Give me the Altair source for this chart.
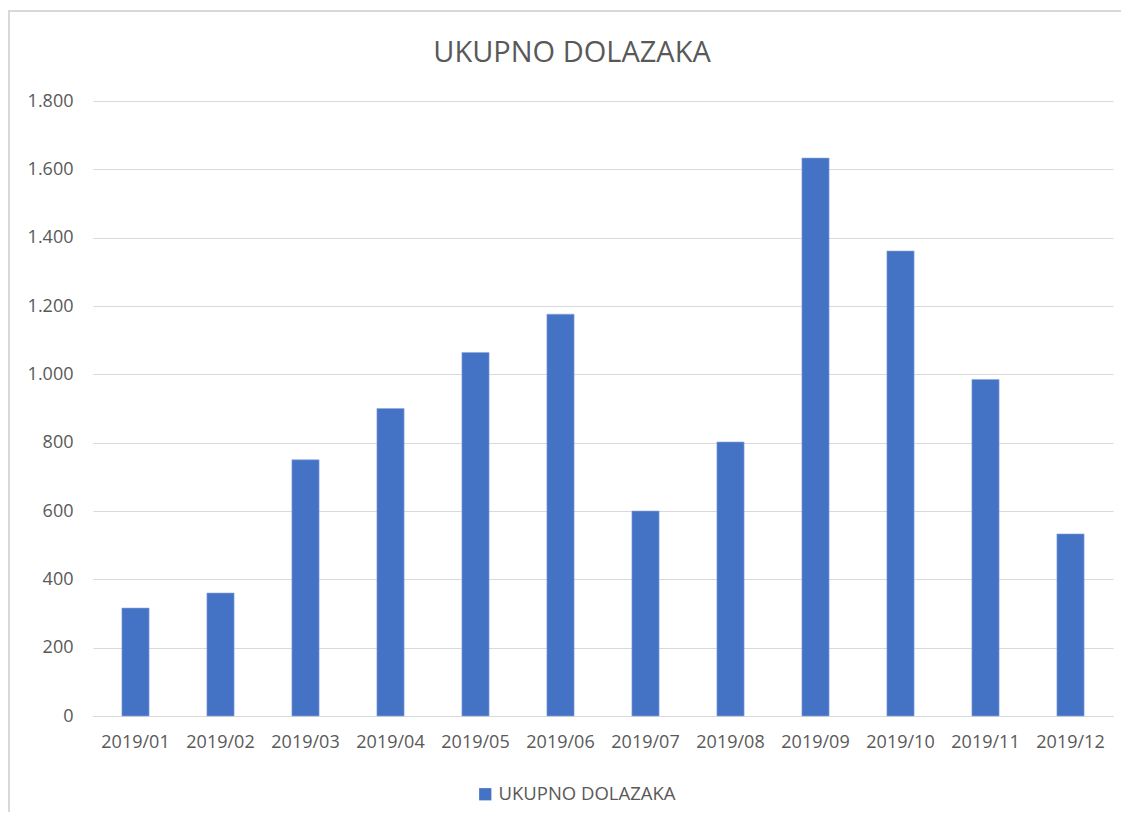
import altair as alt
import pandas as pd

months = ["2019/01", "2019/02", "2019/03", "2019/04", "2019/05", "2019/06",
          "2019/07", "2019/08", "2019/09", "2019/10", "2019/11", "2019/12"]
values = [316, 360, 750, 900, 1064, 1176, 600, 802, 1633, 1361, 985, 533]
series = "UKUPNO DOLAZAKA"

df = pd.DataFrame({"month": months, "value": values, "series": [series] * len(months)})
title_df = pd.DataFrame({"t": [series]})

FONT = "Open Sans"
GRAY = "#595959"

bars = alt.Chart(df).mark_bar(color="#4472C4", stroke="#8FAADC", strokeWidth=0.6).encode(
    x=alt.X("month:N", sort=months, title=None,
            scale=alt.Scale(paddingInner=0.68, paddingOuter=0.34),
            axis=alt.Axis(labelAngle=0, labelFontSize=18, labelColor=GRAY, labelFont=FONT,
                          ticks=False, domain=True, domainColor="#d9d9d9", labelPadding=17)),
    y=alt.Y("value:Q", title=None,
            scale=alt.Scale(domain=[0, 1800], nice=False),
            axis=alt.Axis(values=list(range(0, 1801, 200)), labelFontSize=18, labelColor=GRAY,
                          labelFont=FONT, ticks=False, domain=False, gridColor="#d9d9d9",
                          labelPadding=20,
                          labelExpr="replace(format(datum.value, ','), ',', '.')")),
    color=alt.Color("series:N", scale=alt.Scale(range=["#4472C4"]),
                    legend=alt.Legend(title=None, orient="none", legendX=383, legendY=684,
                                      symbolType="square", symbolSize=150, symbolStrokeWidth=0,
                                      labelFontSize=18.5, labelColor=GRAY, labelFont=FONT,
                                      labelOffset=4, labelLimit=500)),
)

frame = alt.Chart(df).mark_rect(fill=None, stroke="#d9d9d9", strokeWidth=1.5).encode(
    x=alt.value(-84), x2=alt.value(1200), y=alt.value(-90), y2=alt.value(900)
)

title = alt.Chart(title_df).mark_text(fontSize=29, color=GRAY, font=FONT, align="center",
                                      baseline="alphabetic").encode(
    text="t:N", x=alt.value(479), y=alt.value(-39)
)

chart = alt.layer(frame, bars, title).properties(
    width=1020, height=615,
    padding={"left": 85, "top": 93, "right": 8, "bottom": 96},
    autosize=alt.AutoSizeParams(type="none"),
).configure_view(stroke=None)

chart.save("out.html", embed_options={"renderer": "svg", "actions": False})
